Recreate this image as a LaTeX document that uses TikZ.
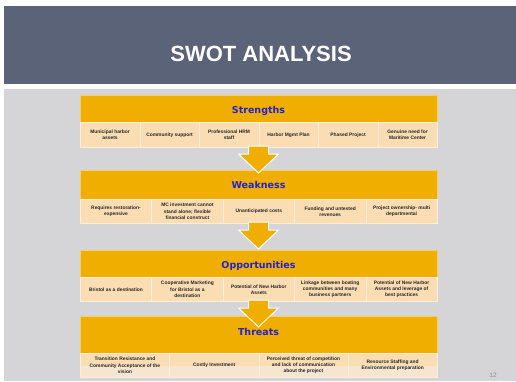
\documentclass[tikz,border=0pt]{standalone}
\usepackage{fontspec}
\setmainfont{Liberation Sans}
\newfontfamily\hdrfont{DejaVu Sans}
\usetikzlibrary{calc}
\definecolor{banner}{HTML}{5B6378}
\definecolor{bggray}{HTML}{D5D5D7}
\definecolor{swotorange}{HTML}{F0AE00}
\definecolor{peach}{HTML}{FADDB3}
\definecolor{peachlow}{HTML}{F6E5D0}
\definecolor{hdrblue}{HTML}{2222D2}
\definecolor{pagegray}{HTML}{8C8C8C}
\tikzset{
  hdrbox/.style={fill=swotorange, draw=swotorange!60!white, line width=0.6pt, minimum width=357pt, inner sep=0pt, anchor=north},
  hdrtext/.style={font=\hdrfont\bfseries\fontsize{9.5}{11}\selectfont, text=hdrblue, anchor=base, inner sep=0pt},
  cellbox/.style={fill=peach, draw=peach!50!white, line width=0.6pt, inner sep=0pt, anchor=north west, align=center,
    font=\bfseries\fontsize{4.9}{6.1}\selectfont, text=black!85},
  blockarrow/.style={fill=swotorange, draw=white, line width=1pt, line join=miter}
}
\newcommand\swotarrow[1]{%
  \draw[blockarrow] ($(#1)+(-10,-1)$) -- ($(#1)+(10,-1)$) -- ($(#1)+(10,7)$) -- ($(#1)+(20,7)$)
    -- ($(#1)+(0,26)$) -- ($(#1)+(-20,7)$) -- ($(#1)+(-10,7)$) -- cycle;}
\begin{document}
\begin{tikzpicture}[x=1pt,y=-1pt]
\useasboundingbox (0,0) rectangle (516,381);
\fill[white] (0,0) rectangle (516,381);
\fill[banner] (4,6) rectangle (516,84);
\node[font=\bfseries\fontsize{22}{26}\selectfont, text=white, inner sep=0pt] (title) at (261,54) {SWOT ANALYSIS};
\fill[bggray] (4,89) rectangle (516,381);

% Strengths
\node[hdrbox, minimum height=27pt] (S) at (258.5,95) {};
\node[hdrtext] (St) at (258.5,113.5) {Strengths};
\foreach \t [count=\i] in {{Municipal harbor\\assets},{Community support},{Professional HRM\\staff},{Harbor Mgmt Plan},{Phased Project},{Genuine need for\\Maritime Center}}
  \node[cellbox, minimum width=59.5pt, minimum height=25pt] (s\i) at ({80+(\i-1)*59.5},122) {\t};
\coordinate (a1) at (258.5,147);

% Weakness
\node[hdrbox, minimum height=29pt] (W) at (258.5,170) {};
\node[hdrtext] (Wt) at (258.5,188.5) {Weakness};
\foreach \t [count=\i] in {{Requires restoration-\\expensive},{MC investment cannot\\stand alone; flexible\\financial construct},{Unanticipated costs},{Funding and untested\\revenues},{Project ownership- multi\\departmental}}
  \node[cellbox, minimum width=71.4pt, minimum height=24pt] (w\i) at ({80+(\i-1)*71.4},199) {\t};
\coordinate (a2) at (258.5,223);

% Opportunities
\node[hdrbox, minimum height=27pt] (O) at (258.5,250) {};
\node[hdrtext] (Ot) at (258.5,268.5) {Opportunities};
\foreach \t [count=\i] in {{Bristol as a destination},{Cooperative Marketing\\for Bristol as a\\destination},{Potential of New Harbor\\Assets},{Linkage between boating\\communities and many\\business partners},{Potential of New Harbor\\Assets and leverage of\\best practices}}
  \node[cellbox, minimum width=71.4pt, minimum height=24pt] (o\i) at ({80+(\i-1)*71.4},277) {\t};
\coordinate (a3) at (258.5,301);

% Threats
\node[hdrbox, minimum height=37pt] (T) at (258.5,316) {};
\fill[peach] (80,353) rectangle (437,366);
\fill[peachlow] (80,366) rectangle (437,377);
\foreach \t [count=\i] in {{Transition Resistance  and\\Community Acceptance of the\\vision},{Costly Investment},{Perceived threat of competition\\and lack of communication\\about the project},{Resource Staffing and\\Environmental preparation}}
  \node[cellbox, fill=none, minimum width=89.25pt, minimum height=24pt] (t\i) at ({80+(\i-1)*89.25},353) {\t};

% arrows
\swotarrow{a1}
\swotarrow{a2}
\swotarrow{a3}
\node[hdrtext] (Tt) at (258.5,335.5) {Threats};

\node[font=\fontsize{6.5}{8}\selectfont, text=pagegray, inner sep=0pt] (pg) at (493,375) {12};
\end{tikzpicture}
\end{document}
